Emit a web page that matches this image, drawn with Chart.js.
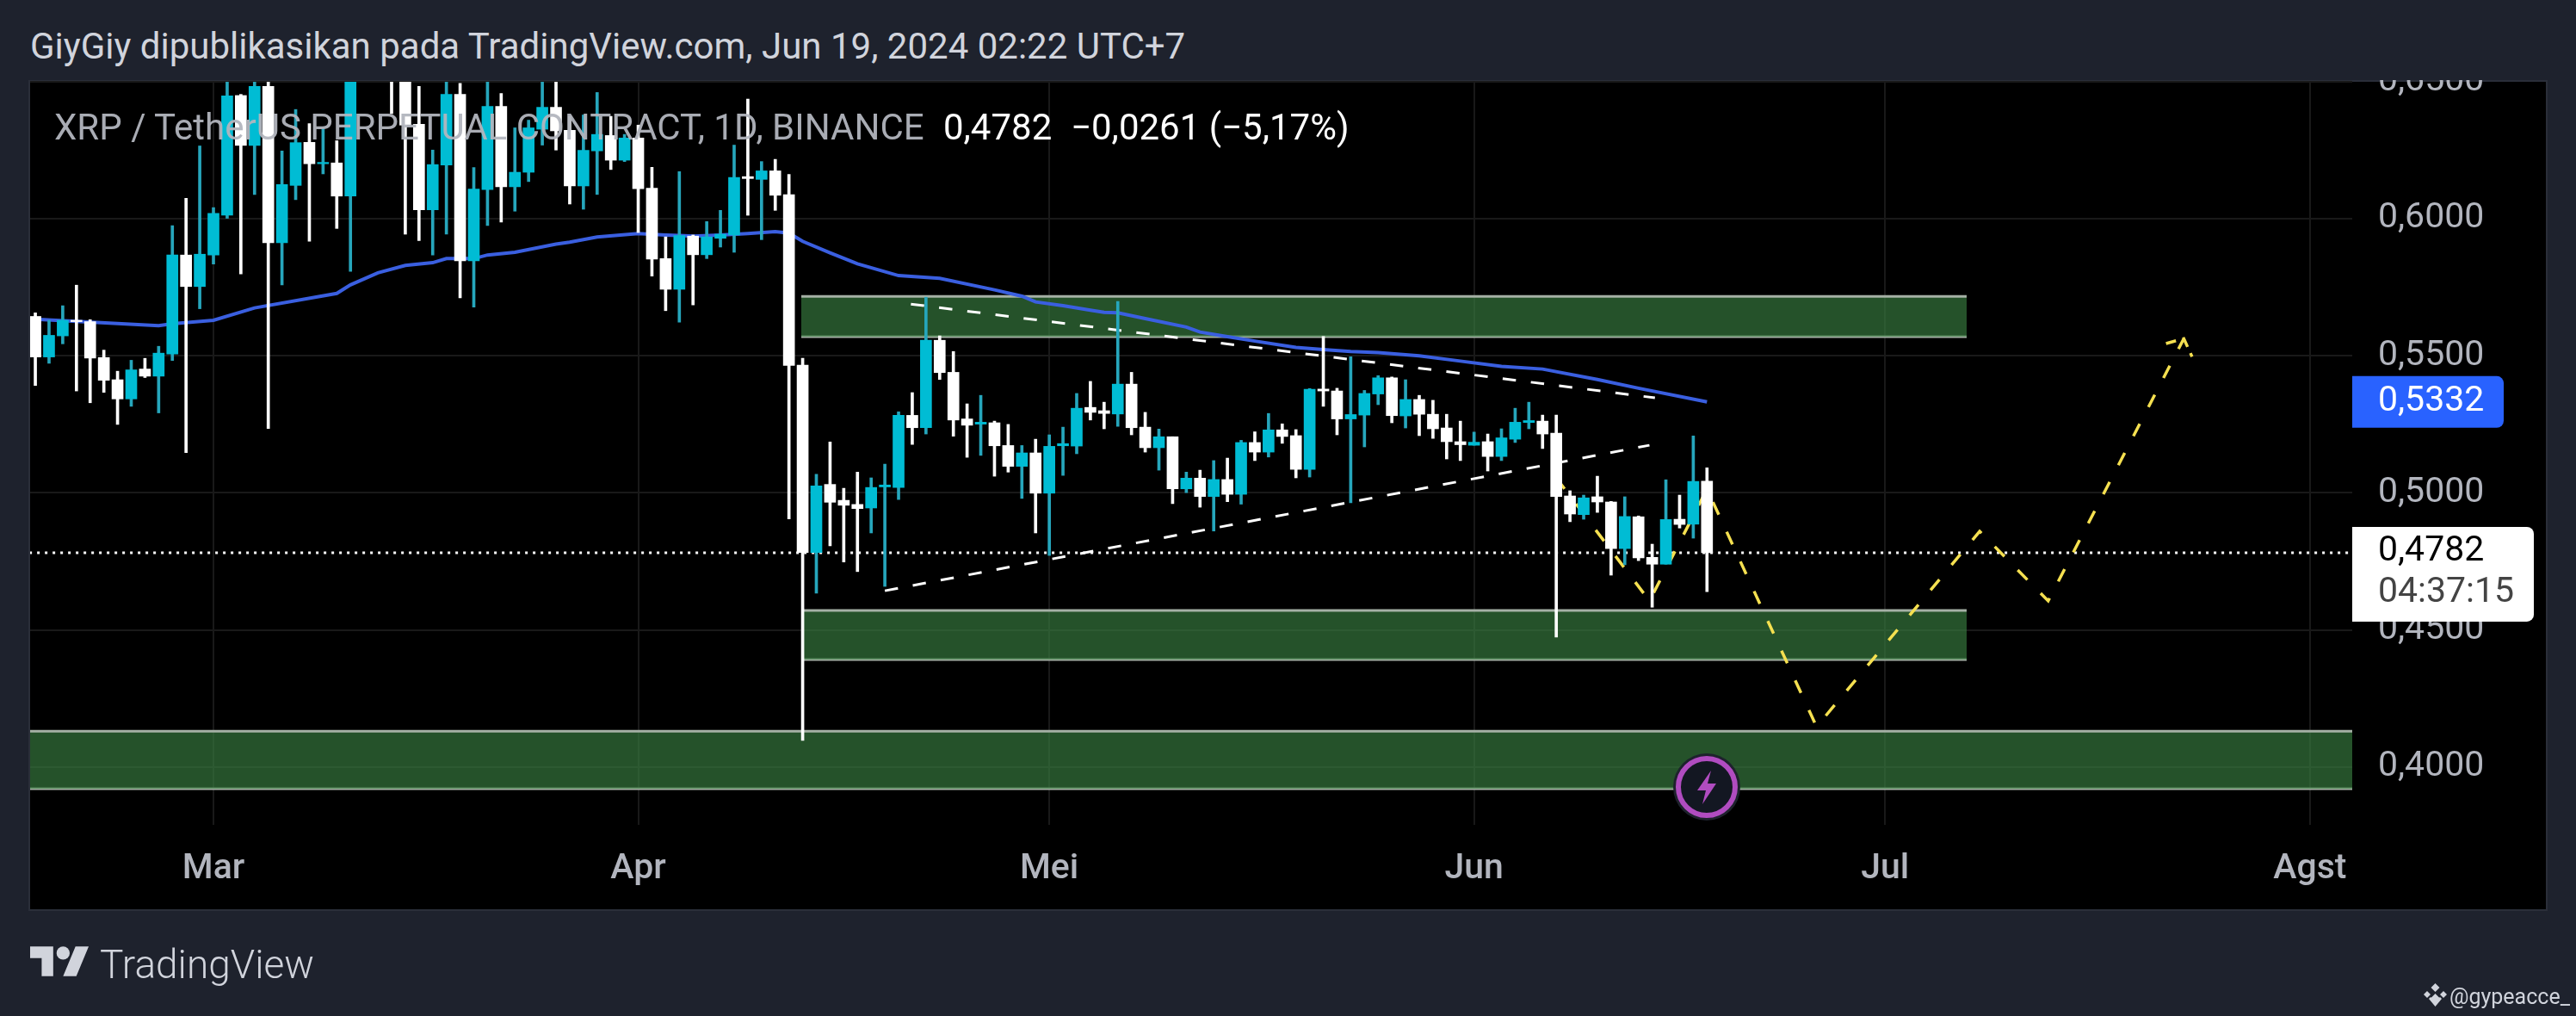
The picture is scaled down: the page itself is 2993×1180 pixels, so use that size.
<!DOCTYPE html>
<html>
<head>
<meta charset="utf-8">
<script src="https://cdn.jsdelivr.net/npm/chart.js@4"></script>
<style>
html, body { margin: 0; padding: 0; background: #1E222D; width: 2993px; height: 1180px; overflow: hidden; font-family: Roboto, sans-serif; }
#pane { position: absolute; left: 35px; top: 95px; width: 2923px; height: 961px; background: #000; box-shadow: 0 0 0 2px #2A2E39; }
#myChart { position: absolute; left: 0; top: 0; }
#header { position: absolute; left: 0; top: 0; width: 2993px; height: 93px; background: #1E222D; }
.txt { position: absolute; white-space: pre; line-height: 1; }
</style>
</head>
<body>
<div id="pane"></div>
<canvas id="myChart" width="2993" height="1180"></canvas>
<div id="header"></div>
<div class="txt" style="left:35px;top:33px;font-size:42px;color:#D1D4DC">GiyGiy dipublikasikan pada TradingView.com, Jun 19, 2024 02:22 UTC+7</div>
<div class="txt" style="left:63px;top:127px;font-size:42px;color:rgba(178,181,190,0.95)">XRP / TetherUS PERPETUAL CONTRACT, 1D, BINANCE</div>
<div class="txt" style="left:1096px;top:127px;font-size:42px;color:#fff">0,4782</div>
<div class="txt" style="left:1244px;top:127px;font-size:42px;color:#fff">−0,0261 (−5,17%)</div>

<svg style="position:absolute;left:35px;top:1099px" width="69" height="35" viewBox="0 4 36 18">
  <path fill="#D1D4DC" d="M14 22H7V11H0V4h14v18zM28 22h-8l7.5-18h8L28 22z"/><circle fill="#D1D4DC" cx="20" cy="8" r="4"/>
</svg>
<div class="txt" style="left:116px;top:1097px;font-size:46px;font-weight:300;color:#D1D4DC">TradingView</div>

<svg style="position:absolute;left:2815px;top:1142px" width="29" height="28" viewBox="0 0 29 28">
  <path fill="#D1D4DC" d="M14.5 0l5 5-5 5-5-5zM14.5 12l5 5-5 5-5-5zM5 9l4 4-4 4-4-4zM24 9l4 4-4 4-4-4zM7 18l2-2 5.5 5.5 5.5-5.5 2 2-7.5 9z"/>
</svg>
<div class="txt" style="left:2846px;top:1145px;font-size:25px;color:#D1D4DC">@gypeacce_</div>

<svg style="position:absolute;left:1942px;top:873px" width="82" height="82" viewBox="0 0 82 82">
  <circle cx="41" cy="41" r="39" fill="#1E222D"/>
  <circle cx="41" cy="41" r="33" fill="#131722" stroke="#B04CC0" stroke-width="6"/>
  <path fill="#B04CC0" d="M46 22L30 45h10l-4 16 16-24H42z"/>
</svg>

<script>
// days counted from 1 Mar 2024, one candle per day
var firstDay = -13;

var opens = [
  0.5644,0.5496,0.5573,0.5630,0.5625,0.5494,0.5413,0.5343,0.5452,0.5426,
  0.5507,0.5868,0.5753,0.5868,0.6013,0.6450,0.6268,0.6483,0.5913,0.6122,
  0.6279,0.6201,0.6204,0.6083,0.6560,0.6690,0.6600,0.6530,0.6345,0.6033,
  0.6196,0.6454,0.5847,0.6107,0.6410,0.6117,0.6170,0.6327,0.6407,0.6323,
  0.6120,0.6248,0.6304,0.6214,0.6295,0.6112,0.5855,0.5743,0.5937,0.5869,
  0.5929,0.5941,0.6154,0.6144,0.6175,0.6088,0.5466,0.4783,0.5031,0.4973,
  0.4958,0.4945,0.5022,0.5020,0.5283,0.5238,0.5557,0.5440,0.5270,0.5251,
  0.5256,0.5173,0.5097,0.5146,0.4999,0.5172,0.5171,0.5312,0.5300,0.5288,
  0.5397,0.5240,0.5165,0.5205,0.5015,0.5054,0.4987,0.5049,0.4995,0.5184,
  0.5149,0.5230,0.5209,0.5086,0.5379,0.5372,0.5270,0.5284,0.5361,0.5420,
  0.5281,0.5341,0.5287,0.5237,0.5187,0.5174,0.5187,0.5133,0.5196,0.5257,
  0.5262,0.5218,0.4989,0.4921,0.4986,0.4967,0.4797,0.4913,0.4765,0.4740,
  0.4904,0.4886,0.5043
];
var closes = [
  0.5496,0.5575,0.5630,0.5625,0.5492,0.5411,0.5343,0.5449,0.5426,0.5510,
  0.5868,0.5753,0.5871,0.6020,0.6449,0.6268,0.6483,0.5913,0.6125,0.6278,
  0.6201,0.6206,0.6083,0.6560,0.6690,0.6600,0.6530,0.6342,0.6033,0.6198,
  0.6454,0.5847,0.6109,0.6410,0.6117,0.6170,0.6332,0.6407,0.6321,0.6120,
  0.6250,0.6308,0.6214,0.6295,0.6110,0.5853,0.5743,0.5939,0.5869,0.5934,
  0.5944,0.6151,0.6147,0.6175,0.6086,0.5465,0.4783,0.5026,0.4966,0.4955,
  0.4943,0.5020,0.5029,0.5283,0.5238,0.5557,0.5439,0.5266,0.5247,0.5258,
  0.5172,0.5097,0.5146,0.4999,0.5170,0.5180,0.5309,0.5294,0.5290,0.5397,
  0.5238,0.5165,0.5205,0.5015,0.5054,0.4987,0.5049,0.4995,0.5184,0.5149,
  0.5230,0.5206,0.5086,0.5378,0.5372,0.5270,0.5286,0.5363,0.5420,0.5282,
  0.5341,0.5287,0.5234,0.5187,0.5176,0.5185,0.5133,0.5201,0.5258,0.5264,
  0.5215,0.4987,0.4923,0.4982,0.4967,0.4797,0.4914,0.4763,0.4740,0.4903,
  0.4885,0.5042,0.4782
];
var highs = [
  0.5657,0.5630,0.5683,0.5758,0.5632,0.5521,0.5444,0.5484,0.5491,0.5535,
  0.5975,0.6075,0.6266,0.6041,0.6560,0.6454,0.6540,0.6530,0.6248,0.6399,
  0.6347,0.6329,0.6285,0.6590,0.6760,0.6720,0.6640,0.6570,0.6483,0.6251,
  0.6520,0.6494,0.6187,0.6530,0.6457,0.6332,0.6360,0.6520,0.6510,0.6374,
  0.6379,0.6461,0.6374,0.6308,0.6342,0.6188,0.5934,0.6172,0.5941,0.5990,
  0.6031,0.6269,0.6437,0.6209,0.6217,0.6162,0.5491,0.5068,0.5186,0.5017,
  0.5076,0.5055,0.5105,0.5296,0.5366,0.5714,0.5573,0.5516,0.5325,0.5356,
  0.5262,0.5250,0.5173,0.5196,0.5212,0.5240,0.5363,0.5407,0.5331,0.5699,
  0.5440,0.5294,0.5233,0.5205,0.5076,0.5083,0.5118,0.5127,0.5192,0.5223,
  0.5290,0.5252,0.5231,0.5381,0.5571,0.5382,0.5497,0.5374,0.5428,0.5423,
  0.5413,0.5356,0.5338,0.5287,0.5262,0.5222,0.5215,0.5234,0.5309,0.5331,
  0.5284,0.5284,0.5008,0.4992,0.5061,0.4969,0.4986,0.4916,0.4813,0.5048,
  0.4992,0.5208,0.5092
];
var lows = [
  0.5392,0.5473,0.5544,0.5372,0.5329,0.5367,0.5250,0.5316,0.5421,0.5292,
  0.5483,0.5147,0.5672,0.5835,0.6002,0.5799,0.6089,0.5235,0.5759,0.6070,
  0.5918,0.6164,0.5965,0.5808,0.6520,0.6530,0.6384,0.5944,0.5921,0.5868,
  0.5944,0.5712,0.5678,0.5976,0.5988,0.6028,0.6136,0.6269,0.6251,0.6054,
  0.6035,0.6089,0.6180,0.6209,0.5950,0.5791,0.5665,0.5623,0.5686,0.5855,
  0.5897,0.5878,0.6013,0.5924,0.6031,0.4905,0.4097,0.4634,0.4807,0.4748,
  0.4713,0.4854,0.4659,0.4976,0.5177,0.5215,0.5414,0.5207,0.5130,0.5137,
  0.5061,0.5076,0.4980,0.4854,0.4772,0.5064,0.5143,0.5266,0.5234,0.5243,
  0.5212,0.5149,0.5083,0.4961,0.5001,0.4948,0.4861,0.4968,0.4959,0.5118,
  0.5131,0.5181,0.5055,0.5058,0.5316,0.5212,0.4964,0.5168,0.5322,0.5256,
  0.5237,0.5209,0.5199,0.5124,0.5118,0.5174,0.5080,0.5118,0.5184,0.5234,
  0.5162,0.4474,0.4895,0.4904,0.4929,0.4700,0.4738,0.4753,0.4583,0.4740,
  0.4872,0.4835,0.4640
];

var maDays = [-13,-4,-3,0,3,9,10,12,14,16,17,19,20,22,25,26,28,31,33,34,35,37,39,41,42,43,45,47,50,53,57,59,60,62,64,65,66,68,71,72,74,76,79,81,83,85,88,91,94,97,101,104,109];
var maValues = [0.5634,0.5610,0.5617,0.5630,0.5675,0.5728,0.5759,0.5803,0.5830,0.5840,0.5855,0.5855,0.5868,0.5878,0.5908,0.5915,0.5934,0.5946,0.5941,0.5939,0.5937,0.5941,0.5946,0.5953,0.5948,0.5918,0.5876,0.5836,0.5793,0.5783,0.5741,0.5718,0.5697,0.5683,0.5667,0.5659,0.5657,0.5636,0.5605,0.5587,0.5570,0.5554,0.5531,0.5523,0.5516,0.5512,0.5500,0.5481,0.5462,0.5452,0.5414,0.5382,0.5332];

// support / resistance zones
var zoneStarts = [42.9, 42.9, -14];
var zoneEnds = [127.95, 127.95, 156.2];
var zoneTops = [0.5717, 0.4571, 0.4131];
var zoneBottoms = [0.5570, 0.4392, 0.3921];

// hand drawn lines
var upperTrendDays = [50.9, 105.2];
var upperTrendValues = [0.5689, 0.5347];
var lowerTrendDays = [49, 104.8];
var lowerTrendValues = [0.4643, 0.5174];
var pathDays = [98, 104.8, 109, 117, 128.9, 133.9, 143.8];
var pathValues = [0.5055, 0.4606, 0.5014, 0.4147, 0.4860, 0.4606, 0.5563];
var arrowDays = [142.5, 143.8, 144.4];
var arrowValues = [0.5545, 0.5563, 0.5497];

var lastPrice = 0.4782;
var lastLabel = '0,4782';
var countdown = '04:37:15';
var maLast = 0.5332;
var maLabel = '0,5332';

var priceTicks = [0.40, 0.45, 0.50, 0.55, 0.60, 0.65];
var monthDays = [0, 31, 61, 92, 122, 153];
var monthNames = ['Mar', 'Apr', 'Mei', 'Jun', 'Jul', 'Agst'];

var upColor = '#00BCD4';
var upWick = '#26A6BC';
var downColor = '#FFFFFF';

function xy (xs, ys) {
    return xs.map(function (x, i) { return { x: x, y: ys[i] }; });
}

var bodies = opens.map(function (o, i) { return { x: firstDay + i, y: [o, closes[i]] }; });
var wicks = lows.map(function (l, i) { return { x: firstDay + i, y: [l, highs[i]] }; });
var bodyColors = opens.map(function (o, i) { return closes[i] >= o ? upColor : downColor; });
var wickColors = opens.map(function (o, i) { return closes[i] >= o ? upWick : downColor; });

var datasets = [];

// candles on top, lower order draws later
datasets.push({ type: 'bar', data: bodies, backgroundColor: bodyColors, barThickness: 13, grouped: false, order: 1 });
datasets.push({ type: 'bar', data: wicks, backgroundColor: wickColors, barThickness: 3, grouped: false, order: 2 });

function lineSet (data, color, width, dash, order) {
    return { type: 'line', data: data, borderColor: color, borderWidth: width, borderDash: dash, pointRadius: 0, tension: 0, fill: false, order: order };
}

datasets.push(lineSet(xy(maDays, maValues), '#3A5FE0', 4, [], 3));
datasets.push(lineSet(xy(upperTrendDays, upperTrendValues), '#FFFFFF', 3, [15.5, 17.5], 4));
datasets.push(lineSet(xy(lowerTrendDays, lowerTrendValues), '#FFFFFF', 3, [15.5, 17.5], 4));
datasets.push(lineSet(xy(pathDays, pathValues), '#F5E050', 3.5, [16, 22], 4));
datasets.push(lineSet(xy(arrowDays, arrowValues), '#F5E050', 3.5, [12, 8], 4));
datasets.push(lineSet(xy([-14, 157], [lastPrice, lastPrice]), '#FFFFFF', 3, [3, 6], 5));

zoneTops.forEach(function (top, i) {
    var upper = lineSet(xy([zoneStarts[i], zoneEnds[i]], [top, top]), '#A5B0A5', 3, [], 6);
    upper.fill = '+1';
    upper.backgroundColor = 'rgba(56,125,63,0.66)';
    datasets.push(upper);
    datasets.push(lineSet(xy([zoneStarts[i], zoneEnds[i]], [zoneBottoms[i], zoneBottoms[i]]), '#A5B0A5', 3, [], 6));
});

// the two price tags on the right axis
var priceTags = {
    id: 'priceTags',
    afterDraw: function (chart) {
        var c = chart.ctx;
        var left = chart.chartArea.right;
        var textX = left + 30;
        var maY = chart.scales.y.getPixelForValue(maLast);
        var lastY = chart.scales.y.getPixelForValue(lastPrice);
        c.save();
        c.font = '41px Roboto';
        c.textAlign = 'left';
        c.textBaseline = 'middle';
        c.fillStyle = '#2962FF';
        c.beginPath();
        c.roundRect(left, maY - 30, 176, 60, [0, 8, 8, 0]);
        c.fill();
        c.fillStyle = '#FFFFFF';
        c.fillText(maLabel, textX, maY);
        c.beginPath();
        c.roundRect(left, lastY - 30, 211, 110, [0, 8, 8, 0]);
        c.fill();
        c.fillStyle = '#000000';
        c.fillText(lastLabel, textX, lastY - 1);
        c.fillStyle = '#444444';
        c.fillText(countdown, textX, lastY + 47);
        c.restore();
    }
};

var chart = new Chart(document.getElementById('myChart').getContext('2d'), {
    type: 'bar',
    data: { datasets: datasets },
    plugins: [priceTags],
    options: {
        responsive: false,
        animation: false,
        layout: { autoPadding: false, padding: { left: 35, right: 35, top: 95, bottom: 124 } },
        plugins: { legend: { display: false }, tooltip: { enabled: false } },
        scales: {
            x: {
                type: 'linear',
                offset: false,
                min: -13.38,
                max: 156.09,
                afterBuildTicks: function (scale) {
                    scale.ticks = monthDays.map(function (d) { return { value: d }; });
                },
                afterFit: function (scale) { scale.height = 98; },
                border: { display: false },
                grid: { offset: false, color: '#191919', lineWidth: 2, drawTicks: false },
                ticks: {
                    autoSkip: false,
                    maxRotation: 0,
                    padding: 27,
                    color: '#B2B5BE',
                    font: { family: 'Roboto', size: 41, weight: '500' },
                    callback: function (value) { return monthNames[monthDays.indexOf(value)]; }
                }
            },
            y: {
                type: 'linear',
                position: 'right',
                min: 0.3789,
                max: 0.65,
                afterBuildTicks: function (scale) {
                    scale.ticks = priceTicks.map(function (v) { return { value: v }; });
                },
                afterFit: function (scale) { scale.width = 225; },
                border: { display: false },
                grid: { color: '#191919', lineWidth: 2, drawTicks: false },
                ticks: {
                    autoSkip: false,
                    padding: 30,
                    crossAlign: 'near',
                    color: '#B2B5BE',
                    font: { family: 'Roboto', size: 41 },
                    callback: function (value) { return value.toFixed(4).replace('.', ','); }
                }
            }
        }
    }
});
</script>
</body>
</html>
